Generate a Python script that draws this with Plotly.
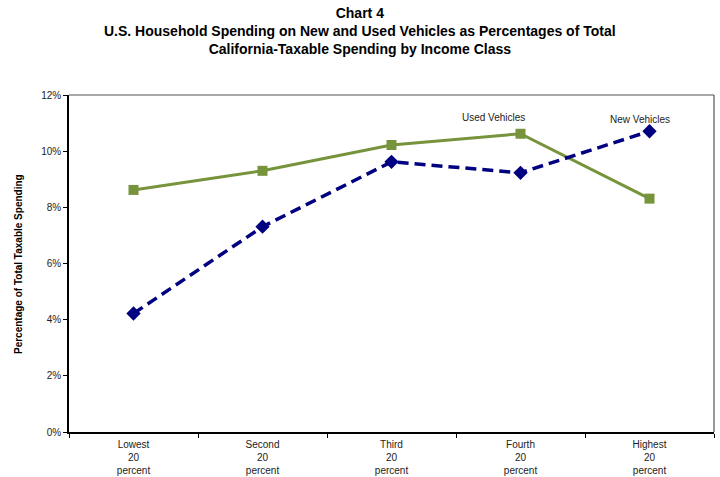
import plotly.graph_objects as go

# Income classes (quintiles) and vehicle spending shares, in percent
income_classes = ["Lowest<br>20<br>percent", "Second<br>20<br>percent", "Third<br>20<br>percent",
                  "Fourth<br>20<br>percent", "Highest<br>20<br>percent"]
used_vehicles = [8.62, 9.30, 10.22, 10.62, 8.31]
new_vehicles = [4.22, 7.31, 9.62, 9.23, 10.71]
y_ticks = [0, 2, 4, 6, 8, 10, 12]
y_tick_labels = [f"{v}%" for v in y_ticks]

W, H = 720, 477
L, R, T, B = 69, 6, 95, 45
FONT = "Liberation Sans, Arial, sans-serif"

fig = go.Figure()
fig.add_trace(go.Scatter(
    x=income_classes, y=used_vehicles, mode="lines+markers", name="Used Vehicles",
    line=dict(color="#77933C", width=3),
    marker=dict(symbol="square", size=10, color="#77933C"),
))
fig.add_trace(go.Scatter(
    x=income_classes, y=new_vehicles, mode="lines+markers", name="New Vehicles",
    line=dict(color="#000080", width=3.5, dash="11px,6px"),
    marker=dict(symbol="diamond", size=11, color="#000080"),
))

fig.update_layout(
    width=W, height=H,
    margin=dict(l=L, r=R, t=T, b=B, autoexpand=False),
    paper_bgcolor="white", plot_bgcolor="white",
    showlegend=False,
    font=dict(family=FONT, size=10, color="#222"),
    xaxis=dict(
        type="category", range=[-0.5, 4.5], automargin=False,
        showline=True, linecolor="black", linewidth=1.5,
        ticks="outside", tickson="boundaries", ticklen=4, tickcolor="black",
        ticklabelstandoff=2,
        showgrid=False, mirror=False, tickfont=dict(size=10, color="#222"),
    ),
    yaxis=dict(
        range=[0, 12], tickmode="array", tickvals=y_ticks, ticktext=y_tick_labels,
        automargin=False,
        showline=True, linecolor="black", linewidth=1.5,
        ticks="outside", ticklen=4, tickcolor="black",
        showgrid=False, zeroline=False, tickfont=dict(size=10, color="#222"),
    ),
)

# Top and right frame of the plot area
fig.add_shape(type="line", xref="paper", yref="paper", x0=0, x1=1, y0=1, y1=1,
              line=dict(color="#555", width=1.2))
fig.add_shape(type="line", xref="paper", yref="paper", x0=1, x1=1, y0=0, y1=1,
              line=dict(color="#555", width=1.2))

pw, ph = W - L - R, H - T - B


def px_x(x):
    return (x - L) / pw


def px_y(y):
    return (H - B - y) / ph


# Chart title
fig.add_annotation(
    text="<b>Chart 4<br>U.S. Household Spending on New and Used Vehicles as Percentages of Total"
         "<br>California-Taxable Spending by Income Class</b>",
    xref="paper", yref="paper", x=px_x(360), y=px_y(3),
    xanchor="center", yanchor="top", showarrow=False,
    font=dict(family=FONT, size=14, color="black"),
)
fig.add_annotation(
    text="<b>Percentage of Total Taxable Spending</b>", textangle=-90,
    xref="paper", yref="paper", x=px_x(18), y=px_y(264),
    xanchor="center", yanchor="middle", showarrow=False,
    font=dict(family=FONT, size=10, color="black"),
)
fig.add_annotation(text="Used Vehicles", xref="paper", yref="paper",
                   x=px_x(493), y=px_y(117), showarrow=False,
                   xanchor="center", yanchor="middle", font=dict(size=10, color="#222"))
fig.add_annotation(text="New Vehicles", xref="paper", yref="paper",
                   x=px_x(640), y=px_y(119), showarrow=False,
                   xanchor="center", yanchor="middle", font=dict(size=10, color="#222"))

fig.write_html("out.html")
